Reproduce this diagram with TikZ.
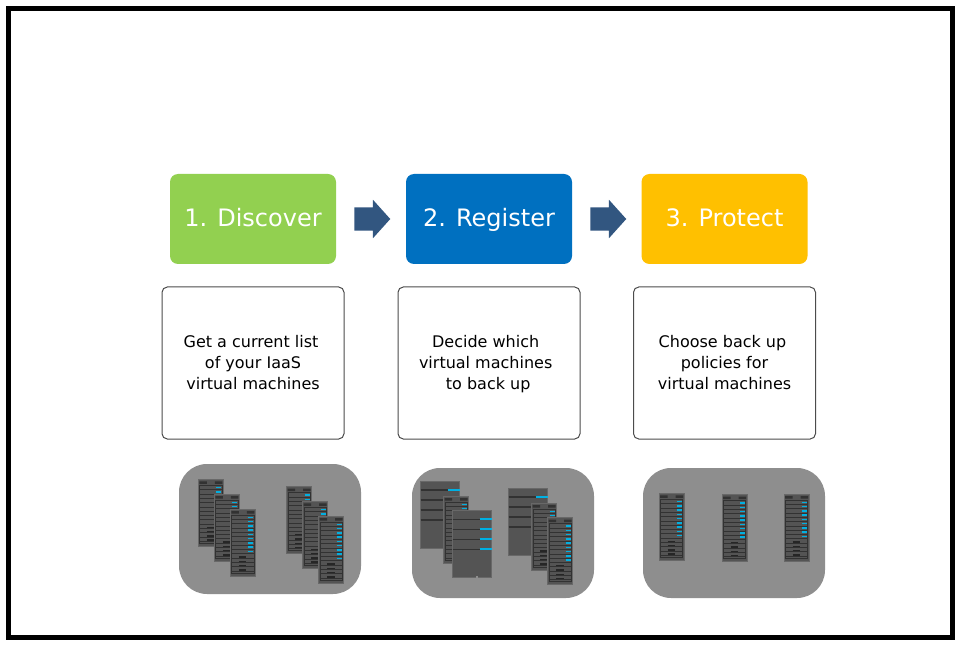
\documentclass[tikz,border=0pt]{standalone}
\usepackage{fontspec}
\setmainfont{DejaVu Sans}
\usetikzlibrary{positioning, shapes.arrows}
\definecolor{DiscoverGreen}{RGB}{146, 208, 80}
\definecolor{RegisterBlue}{RGB}{0, 112, 192}
\definecolor{ProtectYellow}{RGB}{255, 192, 0}
\definecolor{ArrowBlue}{RGB}{50, 86, 128}
\definecolor{PanelGrey}{RGB}{142, 142, 142}
\definecolor{RackBody}{RGB}{84, 84, 84}
\definecolor{RackEdge}{RGB}{104, 104, 104}
\definecolor{RackLine}{RGB}{50, 50, 50}
\definecolor{RackTick}{RGB}{0, 176, 226}
\newcommand{\notetop}{\rule{0pt}{13.5pt}}
\tikzset{
  stepbox/.style={rounded corners=6pt, minimum width=124.5pt, minimum height=67.5pt,
    text=white, font=\fontsize{18}{22}\selectfont, text height=15.25pt, text depth=4pt, inner sep=0pt},
  notebox/.style={draw=black!70, line width=0.75pt, rounded corners=4pt, minimum width=136.5pt, minimum height=114pt,
    align=center, font=\fontsize{12}{15.75}\selectfont, inner sep=0pt},
  rackpanel/.style={fill=PanelGrey, rounded corners=21pt, minimum width=136.5pt, minimum height=97.5pt, inner sep=0pt},
  steparrow/.style={single arrow, anchor=tail, fill=ArrowBlue, minimum height=27pt, minimum width=28.5pt,
    inner xsep=0pt, inner ysep=8.6pt, single arrow head extend=5.6pt, single arrow tip angle=96},
  rack/.pic={
    \fill[RackBody, draw=RackEdge, line width=0.6pt] (0,0) rectangle (25,67);
    \fill[RackLine] (1,2) rectangle (8.5,4.5) (16.5,2) rectangle (24,4.5);
    \draw[RackLine, line width=0.6pt] (1.2,6) rectangle (23.8,64);
    \foreach \row in {1,...,13}
      \draw[RackLine, line width=0.4pt] (1.2,6+4.3*\row) -- (23.8,6+4.3*\row);
    \foreach \row in {0,...,8}
      \draw[RackTick, line width=1.1pt] (18,8.3+4.27*\row) -- (23,8.3+4.27*\row);
    \foreach \row in {0,...,3}
      \draw[black!85, line width=1.1pt] (8.5,48+4.3*\row) -- (16,48+4.3*\row);
  },
  bigrack/.pic={
    \fill[RackBody, draw=RackEdge, line width=0.4pt] (0,0) rectangle (39,67);
    \foreach \row in {9,19,29,39} {
      \draw[RackLine, line width=0.9pt] (0,\row) -- (27,\row);
      \draw[RackTick, line width=1.6pt] (27,\row) -- (39,\row);
    }
  }
}
\begin{document}
\begin{tikzpicture}[x=0.75pt, y=-0.75pt]
  \useasboundingbox (0,0) rectangle (960,645);
  \fill[white] (0,0) rectangle (960,645);
  \draw[line width=3.75pt] (8.5,8.5) rectangle (952.5,637.5);

  % Steps
  \node[stepbox, fill=DiscoverGreen] (discover) at (253,219) {1. Discover};
  \node[stepbox, fill=RegisterBlue] (register) at (489,219) {2. Register};
  \node[stepbox, fill=ProtectYellow] (protect) at (724.5,219) {3. Protect};
  \node[steparrow] (arrowone) at (354,219) {};
  \node[steparrow] (arrowtwo) at (590,219) {};

  % Notes
  \node[notebox] (notediscover) at (253,363) {\notetop Get a current list\hspace*{3pt}\\of your IaaS\\virtual machines\strut};
  \node[notebox] (noteregister) at (489,363) {\notetop Decide which\hspace*{5pt}\\virtual machines\rule{5pt}{0pt}\\\ to back up\hspace*{5pt}\strut};
  \node[notebox] (noteprotect) at (724.5,363) {\notetop Choose back up\hspace*{3pt}\\policies for\\virtual machines\strut};

  % Panels
  \node[rackpanel] (paneldiscover) at (270,529) {};
  \node[rackpanel] (panelregister) at (503,533) {};
  \node[rackpanel] (panelprotect) at (734,533) {};

  % Racks, discover
  \pic at (198.3,479.3) {rack};
  \pic at (214.3,494) {rack};
  \pic at (230.3,509) {rack};
  \pic at (286.7,486.7) {rack};
  \pic at (302.7,501.3) {rack};
  \pic at (318.7,516) {rack};

  % Racks, register
  \pic at (420.7,481) {bigrack};
  \pic at (443.7,496) {rack};
  \pic at (452.7,510.3) {bigrack};
  \fill[PanelGrey] (476,575.8) rectangle (478,577.5);
  \pic at (508.7,488) {bigrack};
  \pic at (531.7,503) {rack};
  \pic at (547.7,517.7) {rack};

  % Racks, protect
  \pic at (659,493.3) {rack};
  \pic at (722,494.7) {rack};
  \pic at (784,494) {rack};
\end{tikzpicture}
\end{document}
